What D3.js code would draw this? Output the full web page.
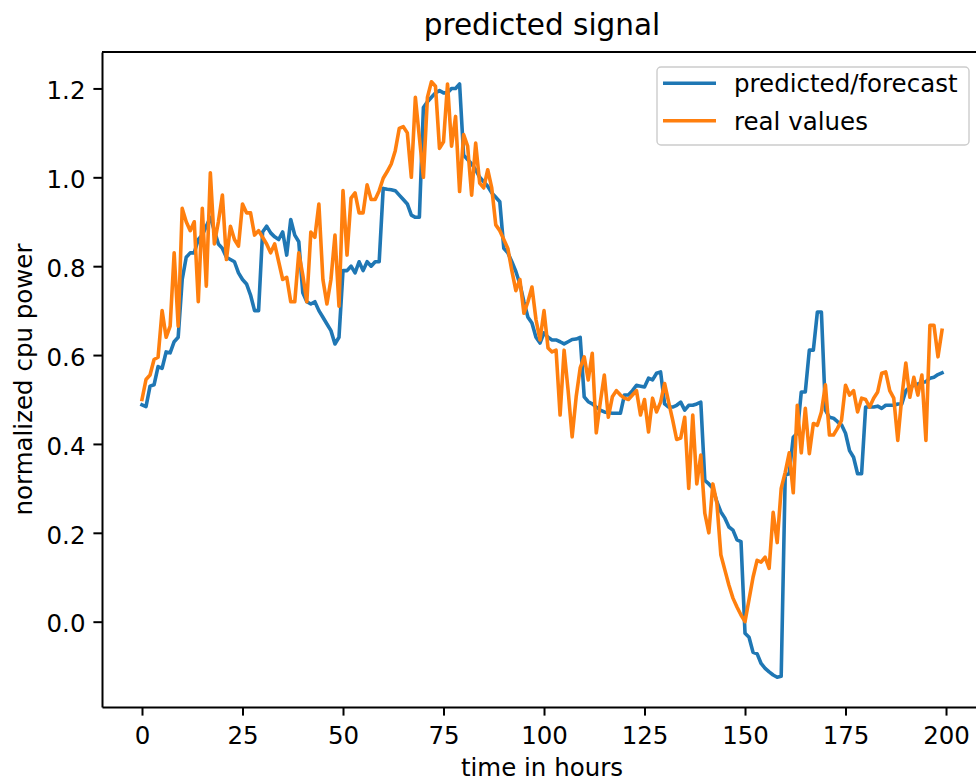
<!DOCTYPE html>
<html><head><meta charset="utf-8">
<script src="https://cdn.jsdelivr.net/npm/d3@7"></script>
<style>
body{margin:0;background:#fff}
svg{display:block}
text{font-family:"DejaVu Sans",sans-serif;fill:#000}
</style>
</head><body>
<svg id="chart" width="976" height="783"></svg>
<script>
// ---- data ----
const predicted = [
0.488,0.484,0.53,0.533,0.574,0.57,0.607,0.605,0.63,0.64,
0.77,0.82,0.83,0.83,0.86,0.87,0.89,0.91,0.88,0.85,
0.84,0.82,0.815,0.81,0.785,0.77,0.76,0.735,0.70,0.70,
0.877,0.89,0.875,0.866,0.86,0.877,0.825,0.905,0.87,0.855,
0.74,0.72,0.715,0.72,0.70,0.685,0.67,0.655,0.625,0.64,
0.79,0.79,0.80,0.785,0.81,0.79,0.81,0.80,0.81,0.81,
0.975,0.973,0.972,0.97,0.96,0.95,0.94,0.915,0.91,0.91,
1.157,1.17,1.18,1.19,1.195,1.19,1.19,1.20,1.20,1.21,
1.05,1.04,1.03,1.017,1.0,0.99,0.98,0.965,0.955,0.945,
0.84,0.83,0.81,0.788,0.76,0.72,0.685,0.672,0.64,0.627,
0.65,0.64,0.634,0.634,0.63,0.625,0.63,0.635,0.636,0.64,
0.506,0.495,0.49,0.483,0.476,0.472,0.47,0.469,0.469,0.469,
0.51,0.51,0.52,0.532,0.53,0.528,0.548,0.544,0.559,0.562,
0.49,0.483,0.483,0.487,0.494,0.476,0.487,0.487,0.49,0.494,
0.318,0.31,0.30,0.27,0.247,0.233,0.213,0.206,0.184,0.18,
-0.026,-0.035,-0.069,-0.072,-0.094,-0.105,-0.113,-0.12,-0.125,-0.123,
0.33,0.333,0.415,0.424,0.517,0.517,0.611,0.611,0.697,0.697,
0.476,0.46,0.458,0.45,0.443,0.424,0.385,0.37,0.333,0.333,
0.483,0.483,0.483,0.485,0.48,0.487,0.487,0.487,0.49,0.49,
0.52,0.528,0.532,0.535,0.538,0.54,0.548,0.55,0.556,0.56
];
const real = [
0.50,0.545,0.555,0.59,0.595,0.70,0.64,0.665,0.83,0.665,
0.93,0.90,0.88,0.90,0.72,0.93,0.755,1.01,0.85,0.90,
0.96,0.815,0.89,0.86,0.845,0.94,0.92,0.92,0.87,0.88,
0.865,0.85,0.83,0.85,0.81,0.77,0.775,0.72,0.72,0.83,
0.78,0.72,0.877,0.865,0.94,0.77,0.715,0.77,0.87,0.71,
0.97,0.825,0.953,0.965,0.92,0.92,0.983,0.95,0.95,0.97,
0.998,1.013,1.03,1.06,1.11,1.114,1.10,1.00,1.18,1.09,
1.00,1.18,1.215,1.205,1.065,1.08,1.21,1.07,1.137,0.968,
1.096,1.07,0.96,1.077,0.987,0.976,1.017,0.976,0.893,0.88,
0.86,0.84,0.79,0.745,0.77,0.694,0.72,0.753,0.68,0.634,
0.70,0.616,0.607,0.611,0.465,0.611,0.52,0.416,0.506,0.571,
0.596,0.544,0.604,0.425,0.494,0.555,0.46,0.506,0.52,0.51,
0.503,0.50,0.51,0.52,0.465,0.50,0.427,0.503,0.472,0.494,
0.536,0.494,0.454,0.41,0.413,0.46,0.30,0.465,0.31,0.375,
0.244,0.20,0.31,0.267,0.15,0.116,0.082,0.053,0.033,0.015,
0.0,0.05,0.10,0.138,0.134,0.145,0.12,0.246,0.178,0.30,
0.336,0.38,0.29,0.487,0.38,0.48,0.378,0.446,0.442,0.472,
0.533,0.42,0.42,0.435,0.453,0.532,0.51,0.52,0.472,0.503,
0.50,0.483,0.503,0.517,0.559,0.562,0.52,0.503,0.408,0.505,
0.582,0.505,0.55,0.51,0.555,0.408,0.667,0.667,0.596,0.656
];
const xTicks = [0,25,50,75,100,125,150,175,200];
const yTicks = [0.0,0.2,0.4,0.6,0.8,1.0,1.2];
const yTickLabels = ["0.0","0.2","0.4","0.6","0.8","1.0","1.2"];
const seriesNames = ["predicted/forecast","real values"];
const seriesColors = ["#1f77b4","#ff7f0e"];
const titleText = "predicted signal";
const xLabelText = "time in hours";
const yLabelText = "normalized cpu power";

// ---- layout ----
const L = 102, R = 982, T = 52, B = 707;
const FS = 24.5;
const svg = d3.select("#chart");
svg.append("rect").attr("width",976).attr("height",783).attr("fill","#fff");

const n = predicted.length;
const hours = d3.range(n);
const x = d3.scaleLinear().domain([-0.05*(n-1), (n-1)*1.05]).range([L,R]);
const [mn, mx] = d3.extent(predicted.concat(real));
const pad = (mx-mn)*0.05;
const y = d3.scaleLinear().domain([mn-pad, mx+pad]).range([B,T]);

// lines
const line = d3.line().x((d,i)=>x(hours[i])).y(d=>y(d));
[predicted, real].forEach((s,k)=>{
  svg.append("path").datum(s)
    .attr("d", line)
    .attr("fill","none")
    .attr("stroke", seriesColors[k])
    .attr("stroke-width",3.6)
    .attr("stroke-linejoin","round")
    .attr("stroke-linecap","square");
});

// axes
const xAxis = d3.axisBottom(x).tickValues(xTicks).tickSize(8.6).tickSizeOuter(0).tickFormat(d3.format("d"));
const gx = svg.append("g").attr("transform",`translate(0,${B})`).call(xAxis);
gx.selectAll("text").attr("y",37).attr("dy",0).style("font-size",FS+"px").attr("fill","#000");

const yAxis = d3.axisLeft(y).tickValues(yTicks).tickSize(8.6).tickSizeOuter(0).tickFormat((d,i)=>yTickLabels[i]);
const gy = svg.append("g").attr("transform",`translate(${L},0)`).call(yAxis);
gy.selectAll("text").attr("x",-16.5).attr("dy","0.42em").style("font-size",FS+"px").attr("fill","#000");

[gx,gy].forEach(g=>{
  g.select(".domain").attr("stroke","#000").attr("stroke-width",2);
  g.selectAll(".tick line").attr("stroke","#000").attr("stroke-width",2);
});
// top and right spines
svg.append("line").attr("x1",L).attr("x2",R).attr("y1",T).attr("y2",T).attr("stroke","#000").attr("stroke-width",2);
svg.append("line").attr("x1",R).attr("x2",R).attr("y1",T).attr("y2",B).attr("stroke","#000").attr("stroke-width",2);

// title & labels
svg.append("text").attr("x",(L+R)/2).attr("y",35).attr("text-anchor","middle")
  .style("font-size","29.5px").text(titleText);
svg.append("text").attr("x",(L+R)/2).attr("y",776).attr("text-anchor","middle")
  .style("font-size",FS+"px").text(xLabelText);
svg.append("text").attr("transform",`translate(31.5,${(T+B)/2}) rotate(-90)`).attr("text-anchor","middle")
  .style("font-size",FS+"px").text(yLabelText);

// legend
const lg = svg.append("g");
lg.append("rect").attr("x",657).attr("y",67).attr("width",312).attr("height",78)
  .attr("rx",4).attr("fill","#fff").attr("fill-opacity",0.8).attr("stroke","#cccccc").attr("stroke-width",1.4);
seriesNames.forEach((name,i)=>{
  const cy = 83.3 + i*37.5;
  lg.append("line").attr("x1",663).attr("x2",716).attr("y1",cy).attr("y2",cy)
    .attr("stroke",seriesColors[i]).attr("stroke-width",3.6);
  lg.append("text").attr("x",734).attr("y",cy+8.7).style("font-size",FS+"px").text(name);
});
</script>
</body></html>
